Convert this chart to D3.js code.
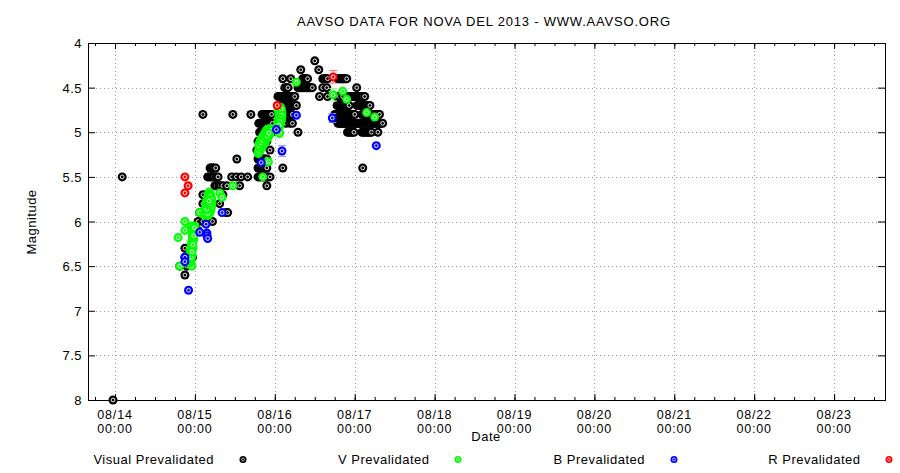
<!DOCTYPE html>
<html><head><meta charset="utf-8">
<script src="https://cdn.jsdelivr.net/npm/d3@7"></script>
<style>
body{margin:0;background:#fff;}
text{font-family:"Liberation Sans",Arial,Helvetica,sans-serif;fill:#000;}
</style>
</head><body>
<svg id="chart" width="900" height="473"></svg>
<script>
// ---------------- DATA ----------------
const chartTitle = "AAVSO DATA FOR NOVA DEL 2013 - WWW.AAVSO.ORG";
const yTitle = "Magnitude";
const xTitle = "Date";
const magTicks = [4, 4.5, 5, 5.5, 6, 6.5, 7, 7.5, 8];
const magTickLabels = ["4", "4.5", "5", "5.5", "6", "6.5", "7", "7.5", "8"];
const dayTicks = [0, 1, 2, 3, 4, 5, 6, 7, 8, 9];           // days since 08/14 00:00 UT
const dayTickLabels = ["08/14", "08/15", "08/16", "08/17", "08/18", "08/19", "08/20", "08/21", "08/22", "08/23"];
const timeTickLabel = "00:00";
const seriesNames = ["Visual Prevalidated", "V Prevalidated", "B Prevalidated", "R Prevalidated"];
const seriesColors = ["#000000", "#00ff00", "#0000ff", "#ff0000"];
const errColors = ["#808080", "#80ff80", "#9090ff", "#ff7070"];

// Visual estimates: [magnitude, [days since 2013-08-14 00:00 UT]]
const visualRows = [
  [4.2, [2.50]],
  [4.3, [2.325, 2.55]],
  [4.4, [2.10, 2.20, 2.35, 2.365, 2.38, 2.395, 2.41, 2.60, 2.615, 2.63, 2.645, 2.66, 2.79, 2.805, 2.82, 2.835, 2.85, 2.865, 2.88, 2.90]],
  [4.5, [2.125, 2.15, 2.165, 2.29, 2.305, 2.32, 2.335, 2.35, 2.365, 2.38, 2.395, 2.41, 2.425, 2.44, 2.455, 2.47, 2.60, 2.65, 3.025]],
  [4.6, [2.04, 2.055, 2.07, 2.085, 2.10, 2.115, 2.13, 2.145, 2.16, 2.175, 2.19, 2.205, 2.22, 2.235, 2.25, 2.56, 2.66, 2.78, 2.81, 2.85,
         2.91, 2.925, 2.94, 2.955, 2.97, 2.985, 3.00, 3.015, 3.03, 3.045, 3.06, 3.08, 3.10, 3.125]],
  [4.7, [2.06, 2.075, 2.09, 2.105, 2.12, 2.135, 2.15, 2.165, 2.18, 2.195, 2.21, 2.225, 2.24, 2.255, 2.27,
         2.78, 2.795, 2.81, 2.825, 2.84, 2.855, 2.87, 2.885, 2.90, 2.915, 2.93,
         3.03, 3.045, 3.06, 3.075, 3.09, 3.105, 3.12, 3.135, 3.15, 3.165, 3.18, 3.19]],
  [4.8, [1.10, 1.475, 1.70, 1.84, 1.855, 1.87, 1.885, 1.90, 1.915, 1.93, 1.945, 1.96,
         2.10, 2.13, 2.145, 2.16, 2.175, 2.19, 2.205, 2.22,
         2.75, 2.765, 2.78, 2.795, 2.81, 2.825, 2.84, 2.855, 2.87, 2.885, 2.90, 2.915, 2.93, 2.945, 2.96, 2.975, 2.99, 3.00,
         3.09, 3.105, 3.12, 3.135, 3.15, 3.165, 3.18, 3.195, 3.21, 3.225, 3.24, 3.255, 3.27, 3.285, 3.30, 3.31]],
  [4.9, [1.80, 1.815, 1.83, 1.845, 1.86, 1.875, 1.89, 1.905, 1.92, 1.935, 1.95, 1.97, 2.14, 2.19, 2.22,
         2.79, 2.805, 2.82, 2.835, 2.85, 2.865, 2.88, 2.895, 2.91, 2.925, 2.94, 2.955, 2.97, 2.985, 3.00, 3.015, 3.03, 3.045,
         3.06, 3.075, 3.09, 3.105, 3.12, 3.135, 3.15, 3.165, 3.18, 3.195, 3.21, 3.225, 3.24, 3.255, 3.27, 3.285, 3.30, 3.315, 3.33, 3.35]],
  [5.0, [1.81, 1.825, 1.84, 1.855, 1.87, 1.885, 1.90, 1.915, 1.93, 1.945, 1.96, 2.29, 2.91, 2.93, 2.95, 2.97, 2.99,
         3.09, 3.11, 3.13, 3.15, 3.17, 3.19, 3.21, 3.29]],
  [5.1, [1.79, 1.805, 1.82, 1.835, 1.85, 1.865, 1.88, 1.90]],
  [5.2, [1.775, 1.79, 1.80, 1.94]],
  [5.3, [1.525, 1.79, 1.805, 1.82, 1.835, 1.85, 1.865, 1.88, 1.90]],
  [5.4, [1.19, 1.205, 1.22, 1.235, 1.26, 1.79, 1.805, 1.82, 1.835, 1.85, 1.865, 1.88, 1.90, 2.10, 3.10]],
  [5.5, [0.09, 1.16, 1.18, 1.20, 1.22, 1.24, 1.27, 1.29, 1.46, 1.52, 1.58, 1.66, 1.79, 1.81, 1.83, 1.85, 1.87, 1.89, 1.91, 1.94]],
  [5.6, [1.25, 1.27, 1.30, 1.32, 1.35, 1.40, 1.56, 1.90]],
  [5.7, [1.10, 1.19, 1.35]],
  [5.8, [1.10, 1.31]],
  [5.9, [1.06, 1.39, 1.41]],
  [6.0, [1.04, 1.10, 1.22]],
  [6.1, [1.04]],
  [6.3, [0.875]],
  [6.4, [0.875, 0.97]],
  [6.5, [0.81, 0.90]],
  [6.6, [0.875]],
  [8.0, [-0.025]]
];

// V observations: [days, magnitude, error]
const vObs = [
  [0.81, 6.50], [0.96, 6.50], [0.79, 6.18], [0.875, 6.10], [0.875, 6.00], [0.96, 6.05],
  [0.935, 6.46], [0.94, 6.43], [0.945, 6.44], [0.94, 6.39], [0.95, 6.40], [0.945, 6.35],
  [0.955, 6.36], [0.95, 6.31], [0.96, 6.32], [0.955, 6.27], [0.965, 6.28], [0.96, 6.23],
  [0.97, 6.24], [0.965, 6.19], [0.975, 6.20], [0.97, 6.15], [0.98, 6.16], [0.975, 6.11],
  [0.985, 6.12], [0.98, 6.08], [0.99, 6.09], [0.99, 6.06], [1.00, 6.05], [0.995, 6.10],
  [0.985, 6.20], [0.975, 6.30], [0.965, 6.38], [0.955, 6.44],
  [0.94, 6.41], [0.95, 6.38], [0.95, 6.34], [0.96, 6.30], [0.96, 6.26], [0.97, 6.22],
  [0.97, 6.18], [0.98, 6.14], [0.98, 6.10], [0.99, 6.07], [0.945, 6.42], [0.955, 6.33],
  [0.965, 6.25], [0.975, 6.17], [0.985, 6.09], [0.955, 6.40], [0.965, 6.34], [0.975, 6.26],
  [0.985, 6.16], [0.995, 6.07],
  [1.06, 5.90],
  [1.12, 5.93], [1.125, 5.90], [1.13, 5.87], [1.135, 5.84], [1.14, 5.81], [1.145, 5.78],
  [1.15, 5.75], [1.16, 5.72], [1.17, 5.69], [1.18, 5.67], [1.19, 5.69], [1.20, 5.72],
  [1.21, 5.75], [1.215, 5.79], [1.21, 5.83], [1.20, 5.87], [1.19, 5.90], [1.17, 5.93],
  [1.15, 5.93], [1.14, 5.90], [1.16, 5.88], [1.17, 5.84], [1.18, 5.80], [1.19, 5.76],
  [1.165, 5.78], [1.155, 5.83], [1.18, 5.72], [1.20, 5.79],
  [1.13, 5.91], [1.14, 5.86], [1.15, 5.82], [1.16, 5.79], [1.17, 5.75], [1.18, 5.70],
  [1.19, 5.72], [1.20, 5.75], [1.205, 5.82], [1.20, 5.85], [1.18, 5.89], [1.16, 5.91],
  [1.15, 5.86], [1.17, 5.81], [1.19, 5.80], [1.175, 5.77],
  [1.31, 5.68], [1.34, 5.73], [1.475, 5.60],
  [1.79, 5.22], [1.80, 5.19], [1.81, 5.16], [1.82, 5.20], [1.83, 5.13], [1.84, 5.17],
  [1.85, 5.10], [1.86, 5.14], [1.87, 5.07], [1.88, 5.11], [1.89, 5.04], [1.90, 5.08],
  [1.91, 5.02], [1.92, 5.05], [1.93, 4.99], [1.94, 5.02], [1.95, 4.97], [1.96, 4.98],
  [1.795, 5.24], [1.81, 5.21], [1.825, 5.17], [1.84, 5.13], [1.855, 5.09], [1.87, 5.05],
  [1.885, 5.01], [1.90, 4.99], [1.915, 4.97], [1.93, 4.96], [1.80, 5.13], [1.82, 5.09],
  [1.84, 5.06], [1.86, 5.03], [1.88, 5.00], [1.90, 4.97], [1.92, 4.99], [1.94, 4.96],
  [1.80, 5.21], [1.815, 5.18], [1.83, 5.15], [1.845, 5.11], [1.86, 5.08], [1.875, 5.05],
  [1.89, 5.02], [1.905, 5.00], [1.92, 4.98], [1.935, 4.98], [1.95, 4.98], [1.805, 5.15],
  [1.825, 5.12], [1.845, 5.09], [1.865, 5.06], [1.885, 5.04], [1.905, 5.04], [1.925, 5.01],
  [1.92, 5.33], [1.85, 5.50],
  [2.03, 4.96], [2.04, 4.92], [2.04, 4.88], [2.05, 4.84], [2.05, 4.80], [2.06, 4.77],
  [2.07, 4.74], [2.08, 4.78], [2.09, 4.82], [2.08, 4.86], [2.07, 4.90], [2.06, 4.93],
  [2.04, 4.75], [2.035, 4.94], [2.045, 4.86], [2.055, 4.78], [2.065, 4.72], [2.075, 4.73],
  [2.085, 4.76], [2.09, 4.79], [2.085, 4.84], [2.075, 4.88], [2.065, 4.91], [2.05, 4.95],
  [2.04, 4.96], [2.045, 4.90], [2.05, 4.87], [2.055, 4.83], [2.06, 4.80], [2.065, 4.76],
  [2.07, 4.72], [2.08, 4.74], [2.08, 4.81], [2.07, 4.85], [2.06, 4.88], [2.055, 4.92],
  [2.06, 5.01, 0.05],
  [2.27, 4.44], [2.73, 4.58, 0.07], [2.85, 4.54], [2.90, 4.63], [3.15, 4.78], [3.25, 4.83]
];

// B observations: [days, magnitude, error]
const bObs = [
  [0.875, 6.40], [0.875, 6.45], [0.92, 6.77], [1.06, 6.12], [1.14, 6.03], [1.15, 6.13],
  [1.15, 6.16], [1.16, 6.19], [1.34, 5.90], [1.83, 5.34], [2.02, 4.97], [2.09, 5.21, 0.06],
  [2.27, 4.81], [2.72, 4.84, 0.05], [3.27, 5.15]
];

// R observations: [days, magnitude, error]
const rObs = [
  [0.875, 5.50], [0.915, 5.60], [0.875, 5.68], [2.03, 4.70], [2.73, 4.38, 0.07]
];

// ---------------- CHART ----------------
const svg = d3.select("#chart");
const L = 88, R = 885, T = 43, B = 400;
const DAY = 86400000;
const t0 = Date.UTC(2013, 7, 14);
const x = d3.scaleUtc().domain([new Date(t0 - 0.338 * DAY), new Date(t0 + 9.637 * DAY)]).range([L, R]);
const y = d3.scaleLinear().domain([4, 8]).range([T, B]);
const xd = d => x(new Date(t0 + d * DAY));

svg.append("rect").attr("width", 900).attr("height", 473).attr("fill", "#fff");

// grid
const grid = svg.append("g").attr("stroke", "#a0a0a0").attr("stroke-width", 1).attr("stroke-dasharray", "1,3");
dayTicks.forEach(d => {
  const xx = Math.round(xd(d)) + 0.5;
  grid.append("line").attr("x1", xx).attr("x2", xx).attr("y1", T).attr("y2", B);
});
magTicks.filter(m => m > 4 && m < 8).forEach(m => {
  const yy = Math.round(y(m)) + 0.5;
  grid.append("line").attr("x1", L).attr("x2", R).attr("y1", yy).attr("y2", yy);
});

// axes (ticks inward)
const majorDates = dayTicks.map(d => new Date(t0 + d * DAY));
const minorDates = d3.utcHour.every(6).range(x.domain()[0], x.domain()[1]);
function styleAxis(g) { g.select(".domain").remove(); g.selectAll("line").attr("stroke", "#000"); g.selectAll("text").remove(); }
svg.append("g").attr("transform", `translate(0,${B})`).call(d3.axisBottom(x).tickValues(minorDates).tickSize(-3)).call(styleAxis);
svg.append("g").attr("transform", `translate(0,${B})`).call(d3.axisBottom(x).tickValues(majorDates).tickSize(-6)).call(styleAxis);
svg.append("g").attr("transform", `translate(0,${T})`).call(d3.axisTop(x).tickValues(minorDates).tickSize(-3)).call(styleAxis);
svg.append("g").attr("transform", `translate(0,${T})`).call(d3.axisTop(x).tickValues(majorDates).tickSize(-6)).call(styleAxis);
svg.append("g").attr("transform", `translate(${L},0)`).call(d3.axisLeft(y).tickValues(magTicks).tickSize(-7)).call(styleAxis);
svg.append("g").attr("transform", `translate(${R},0)`).call(d3.axisRight(y).tickValues(magTicks).tickSize(-7)).call(styleAxis);

// frame
svg.append("rect").attr("x", L + 0.5).attr("y", T + 0.5).attr("width", R - L).attr("height", B - T)
  .attr("fill", "none").attr("stroke", "#000").attr("stroke-width", 1);

// tick labels
const fs = 13, ls = 0.5;
magTicks.forEach((m, i) => {
  svg.append("text").attr("x", L - 6).attr("y", y(m) + 5).attr("text-anchor", "end")
    .attr("font-size", fs).attr("letter-spacing", ls).text(magTickLabels[i]);
});
dayTicks.forEach((d, i) => {
  svg.append("text").attr("text-anchor", "middle").attr("font-size", 12.5).attr("letter-spacing", 0.8)
    .attr("x", xd(d)).attr("y", 418.5).text(dayTickLabels[i]);
  svg.append("text").attr("text-anchor", "middle").attr("font-size", 12.5).attr("letter-spacing", 0.8)
    .attr("x", xd(d)).attr("y", 432.5).text(timeTickLabel);
});

// titles
svg.append("text").attr("x", 484).attr("y", 26).attr("text-anchor", "middle").attr("font-size", fs)
  .attr("letter-spacing", 0.8).text(chartTitle);
svg.append("text").attr("x", 486).attr("y", 441).attr("text-anchor", "middle").attr("font-size", fs).attr("letter-spacing", ls).text(xTitle);
svg.append("text").attr("transform", "translate(36,222) rotate(-90)").attr("text-anchor", "middle").attr("font-size", fs).attr("letter-spacing", ls).text(yTitle);

// markers
function marker(g, cx, cy, color, r) {
  g.append("circle").attr("cx", cx).attr("cy", cy).attr("r", r).attr("fill", color);
  g.append("circle").attr("cx", cx).attr("cy", cy).attr("r", r * 0.42).attr("fill", "none")
    .attr("stroke", "#fff").attr("stroke-width", r * 0.2);
}
function errorBars(g, data, color) {
  data.filter(p => p.length > 2).forEach(p => {
    const cx = xd(p[0]), y1 = y(p[1] - p[2]), y2 = y(p[1] + p[2]);
    g.append("line").attr("x1", cx).attr("x2", cx).attr("y1", y1).attr("y2", y2).attr("stroke", color);
    g.append("line").attr("x1", cx - 4).attr("x2", cx + 4).attr("y1", y1).attr("y2", y1).attr("stroke", color);
    g.append("line").attr("x1", cx - 4).attr("x2", cx + 4).attr("y1", y2).attr("y2", y2).attr("stroke", color);
  });
}
const plot = svg.append("g");
const visualObs = visualRows.flatMap(([m, days]) => days.map(d => [d, m]));
const allSeries = [visualObs, vObs, bObs, rObs];
allSeries.forEach((data, si) => {
  const g = plot.append("g");
  errorBars(g, data, errColors[si]);
  data.forEach(p => marker(g, xd(p[0]), y(p[1]), seriesColors[si], 4.5));
});

// legend
const legTextX = [214, 429.5, 645, 860.5];
const legMarkX = [243, 458, 674, 889];
seriesNames.forEach((n, i) => {
  svg.append("text").attr("x", legTextX[i]).attr("y", 464).attr("text-anchor", "end").attr("font-size", fs)
    .attr("letter-spacing", ls).text(n);
  marker(svg.append("g"), legMarkX[i], 459.5, seriesColors[i], 3.5);
});
</script>
</body></html>
